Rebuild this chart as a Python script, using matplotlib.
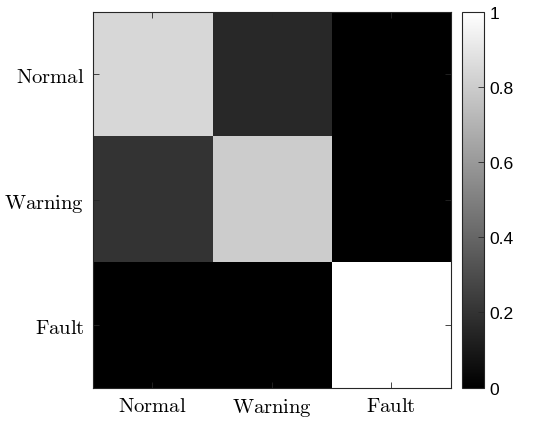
import numpy as np
import matplotlib
matplotlib.use("Agg")
import matplotlib.pyplot as plt

plt.rcParams['mathtext.fontset'] = 'cm'
plt.rcParams['font.family'] = ['Liberation Sans', 'DejaVu Sans']

# 类别与混淆矩阵数值
classes = ['Normal', 'Warning', 'Fault']
row_normal = [0.84, 0.16, 0.0]
row_warning = [0.20, 0.80, 0.0]
row_fault = [0.0, 0.0, 1.0]
cbar_ticks = [0, 0.2, 0.4, 0.6, 0.8, 1]

M = np.array([row_normal, row_warning, row_fault])

fig = plt.figure(figsize=(5.5, 4.27), dpi=100)
ax = fig.add_axes([0.1685, 0.0897, 0.651, 0.8806])
cax = fig.add_axes([0.8405, 0.0897, 0.0394, 0.8806])

im = ax.imshow(M, cmap='gray', vmin=0, vmax=1, aspect='auto',
               interpolation='nearest')

ax.set_xticks(range(len(classes)))
ax.set_yticks(range(len(classes)))
ax.set_xticklabels([r'$\mathrm{%s}$' % c for c in classes], fontsize=14.8)
ax.set_yticklabels([r'$\mathrm{%s}$' % c for c in classes], fontsize=14.8)
ax.tick_params(direction='in', length=4, width=0.6, color='#262626',
               top=True, right=True, pad=6)
for sp in ax.spines.values():
    sp.set_linewidth(0.8)
    sp.set_color('#262626')

cb = fig.colorbar(im, cax=cax, ticks=cbar_ticks)
cb.ax.set_yticklabels(['0', '0.2', '0.4', '0.6', '0.8', '1'])
cb.ax.tick_params(direction='in', length=4, width=0.6, labelsize=12.6,
                  color='#262626', pad=4)
cb.outline.set_linewidth(0.8)
cb.outline.set_edgecolor('#262626')

fig.savefig('out.png', dpi=100)
